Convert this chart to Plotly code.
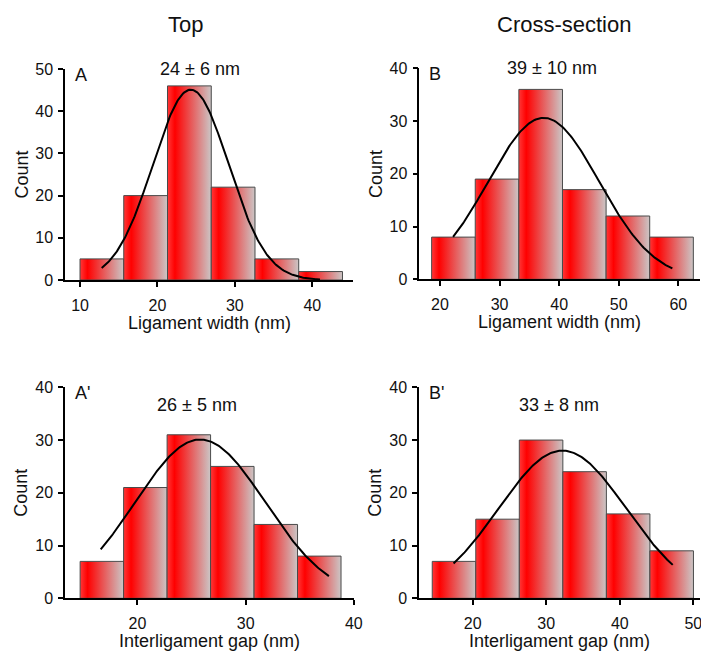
import numpy as np
import plotly.graph_objects as go

W, H = 701, 651

# ---- histogram data: bin edges (nm) and counts ----
top_width_edges = [10.0, 15.65, 21.3, 26.95, 32.6, 38.25, 43.9]
top_width_counts = [5, 20, 46, 22, 5, 2]

cross_width_edges = [18.6, 25.92, 33.24, 40.56, 47.88, 55.2, 62.52]
cross_width_counts = [8, 19, 36, 17, 12, 8]

top_gap_edges = [14.7, 18.72, 22.74, 26.76, 30.78, 34.8, 38.82]
top_gap_counts = [7, 21, 31, 25, 14, 8]

cross_gap_edges = [14.5, 20.42, 26.34, 32.26, 38.18, 44.1, 50.02]
cross_gap_counts = [7, 15, 30, 24, 16, 9]

# ---- Gaussian fits: mean, sigma, peak height, x start, x end ----
top_width_fit = (24.3, 4.9, 45.1, 12.8, 41.0)
cross_width_fit = (37.4, 9.3, 30.6, 22.2, 59.0)
top_gap_fit = (25.8, 6.0, 30.1, 16.6, 37.7)
cross_gap_fit = (32.2, 8.7, 28.0, 17.4, 47.2)

# ---- labels ----
panel_letters = ["A", "B", "A'", "B'"]
stat_labels = ["24 ± 6 nm", "39 ± 10 nm", "26 ± 5 nm", "33 ± 8 nm"]
x_titles = ["Ligament width (nm)", "Ligament width (nm)",
            "Interligament gap (nm)", "Interligament gap (nm)"]
column_titles = ["Top", "Cross-section"]

x_ticks = [[10, 20, 30, 40], [20, 30, 40, 50, 60], [20, 30, 40], [20, 30, 40, 50]]
y_ticks = [[0, 10, 20, 30, 40, 50], [0, 10, 20, 30, 40], [0, 10, 20, 30, 40], [0, 10, 20, 30, 40]]

edges_all = [top_width_edges, cross_width_edges, top_gap_edges, cross_gap_edges]
counts_all = [top_width_counts, cross_width_counts, top_gap_counts, cross_gap_counts]
fits_all = [top_width_fit, cross_width_fit, top_gap_fit, cross_gap_fit]

# ---- panel geometry in pixels: (left, right, top, bottom) and axis ranges ----
boxes = [(65, 353, 69, 280), (419.3, 700, 68.3, 279.3),
         (65, 354, 387.3, 598.3), (419, 700, 387.3, 598.3)]
x_ranges = [[8.06, 45.26], [16.53, 63.64], [13.3, 40.02], [12.7, 50.91]]
y_ranges = [[0, 50], [0, 40], [0, 40], [0, 40]]


def px(x):
    return x / W


def py(y):
    return 1 - y / H


FONT = "Liberation Sans, Arial, sans-serif"
bar_scale = [[0.0, "#ff3838"], [0.17, "#ff0000"], [1.0, "#cbc6c6"]]

fig = go.Figure()
layout = {}
annotations = []

for i in range(4):
    n = "" if i == 0 else str(i + 1)
    xa, ya = "x" + n, "y" + n
    edges, counts = edges_all[i], counts_all[i]

    # gradient-filled histogram bars
    for k, c in enumerate(counts):
        l, r = edges[k], edges[k + 1]
        fig.add_trace(go.Scatter(
            x=[l, l, r, r, l], y=[0, c, c, 0, 0],
            mode="lines", fill="toself",
            fillgradient=dict(type="horizontal", colorscale=bar_scale),
            line=dict(color="#4a4a4a", width=1),
            xaxis=xa, yaxis=ya, showlegend=False, hoverinfo="skip"))

    # Gaussian fit curve
    mu, sig, peak, x0, x1 = fits_all[i]
    xs = np.linspace(x0, x1, 200)
    ys = peak * np.exp(-(xs - mu) ** 2 / (2 * sig ** 2))
    fig.add_trace(go.Scatter(x=xs, y=ys, mode="lines",
                             line=dict(color="black", width=2),
                             xaxis=xa, yaxis=ya, showlegend=False))

    left, right, top, bottom = boxes[i]
    axis_common = dict(showline=True, linecolor="black", linewidth=1.5,
                       ticks="outside", ticklen=5, tickwidth=1.5, tickcolor="black",
                       showgrid=False, zeroline=False, automargin=False,
                       ticklabeloverflow="allow",
                       tickfont=dict(family=FONT, size=16, color="#111"))
    layout["xaxis" + n] = dict(axis_common, domain=[px(left), px(right)],
                               range=x_ranges[i], tickvals=x_ticks[i],
                               anchor=ya, ticklabelstandoff=5)
    layout["yaxis" + n] = dict(axis_common, domain=[py(bottom), py(top)],
                               range=y_ranges[i], tickvals=y_ticks[i],
                               anchor=xa, ticklabelstandoff=2)

    mid_x = (left + right) / 2
    mid_y = (top + bottom) / 2
    # axis titles
    annotations.append(dict(x=px(mid_x), y=py(bottom + 43), xref="paper", yref="paper",
                            text=x_titles[i], showarrow=False, xanchor="center", yanchor="middle",
                            font=dict(family=FONT, size=18, color="#111")))
    annotations.append(dict(x=px(left - 44), y=py(mid_y), xref="paper", yref="paper",
                            text="Count", textangle=-90, showarrow=False,
                            xanchor="center", yanchor="middle",
                            font=dict(family=FONT, size=18, color="#111")))
    # panel letter
    annotations.append(dict(x=px(left + 8), y=py(top + 6), xref="paper", yref="paper",
                            text=panel_letters[i], showarrow=False, xanchor="left", yanchor="middle",
                            font=dict(family=FONT, size=18, color="#111")))

stat_pos = [(200, 69), (551.7, 68.3), (197, 405), (559, 405)]
for (sx, sy), s in zip(stat_pos, stat_labels):
    annotations.append(dict(x=px(sx), y=py(sy), xref="paper", yref="paper", text=s,
                            showarrow=False, xanchor="center", yanchor="middle",
                            font=dict(family=FONT, size=18, color="#111")))

for (tx, ty), t in zip([(185.7, 25), (564, 25)], column_titles):
    annotations.append(dict(x=px(tx), y=py(ty), xref="paper", yref="paper", text=t,
                            showarrow=False, xanchor="center", yanchor="middle",
                            font=dict(family=FONT, size=22, color="#111")))

fig.update_layout(**layout)
fig.update_layout(width=W, height=H, margin=dict(l=0, r=0, t=0, b=0, autoexpand=False),
                  paper_bgcolor="white", plot_bgcolor="white",
                  annotations=annotations, showlegend=False)

fig.write_html("out.html")
